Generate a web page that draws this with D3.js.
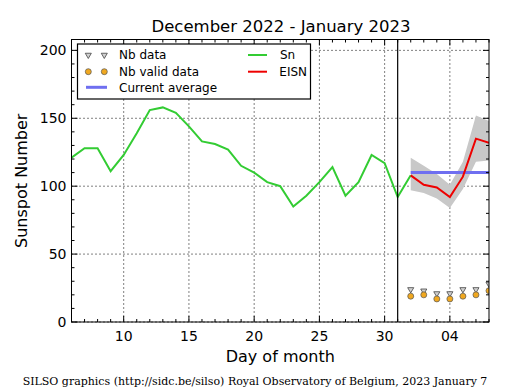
<!DOCTYPE html>
<html><head><meta charset="utf-8">
<script src="https://cdn.jsdelivr.net/npm/d3@7"></script>
<style>body{margin:0;background:#fff}svg{display:block}</style>
</head><body>
<svg id="c" width="515" height="390"></svg>
<script>
// ---- data ----
const snDays = [6,7,8,9,10,11,12,13,14,15,16,17,18,19,20,21,22,23,24,25,26,27,28,29,30,31,32];
const snValues = [121,128,128,111,123,139,156,158,154,144,133,131,127,115,110,103,100,85,93,103,114,93,103,123,117,92,108];
const eisnDays = [32,33,34,35,36,37,38];
const eisnValues = [108,101,99,92,107,135,132];
const eisnUpper = [121,115,109,101,118,152,148];
const eisnLower = [97,95,91,84,98,118,119];
const nbData = [24,23,21,21,24,24,28];
const nbValid = [19,20,17,17,19,20,23];
const currentAverage = 110;
const avgRange = [32,38];
const monthBoundary = 31;
const xTickValues = [10,15,20,25,30,35];
const xTickLabels = ["10","15","20","25","30","04"];
const yTickValues = [0,50,100,150,200];
const titleText = "December 2022 - January 2023";
const footerText = "SILSO graphics (http://sidc.be/silso) Royal Observatory of Belgium, 2023 January 7";

// ---- layout ----
const L = 71.5, R = 489, T = 39.5, B = 322;
const x = d3.scaleLinear().domain([6,38]).range([L,R]);
const y = d3.scaleLinear().domain([0,208]).range([B,T]);
const svg = d3.select("#c");
const font = "DejaVu Sans, sans-serif";

svg.append("defs").append("clipPath").attr("id","pc")
  .append("rect").attr("x",L).attr("y",T).attr("width",R-L).attr("height",B-T);

// grid
const g = svg.append("g");
g.selectAll(".gx").data(xTickValues).join("line")
  .attr("x1",d=>x(d)).attr("x2",d=>x(d)).attr("y1",T).attr("y2",B)
  .attr("stroke","#000").attr("stroke-width",1).attr("stroke-dasharray","1,3");
g.selectAll(".gy").data(yTickValues).join("line")
  .attr("x1",L).attr("x2",R).attr("y1",d=>y(d)).attr("y2",d=>y(d))
  .attr("stroke","#000").attr("stroke-width",1).attr("stroke-dasharray","1,3");

const plot = svg.append("g").attr("clip-path","url(#pc)");

// band
const bandData = eisnDays.map((d,i)=>({d, hi:eisnUpper[i], lo:eisnLower[i]}));
plot.append("path").datum(bandData)
  .attr("d", d3.area().x(p=>x(p.d)).y0(p=>y(p.lo)).y1(p=>y(p.hi)))
  .attr("fill","#c8c8c8").attr("stroke","none");

// Sn
plot.append("path").datum(snDays.map((d,i)=>[d,snValues[i]]))
  .attr("d", d3.line().x(p=>x(p[0])).y(p=>y(p[1])))
  .attr("fill","none").attr("stroke","#33cc33").attr("stroke-width",2);

// current average
plot.append("line").attr("x1",x(avgRange[0])).attr("x2",x(avgRange[1]))
  .attr("y1",y(currentAverage)).attr("y2",y(currentAverage))
  .attr("stroke","#6f6ff0").attr("stroke-width",3);

// EISN
plot.append("path").datum(eisnDays.map((d,i)=>[d,eisnValues[i]]))
  .attr("d", d3.line().x(p=>x(p[0])).y(p=>y(p[1])))
  .attr("fill","none").attr("stroke","#ee0000").attr("stroke-width",2);

// markers
const tri = d3.symbol().type(d3.symbolTriangle).size(16);
plot.selectAll(".tri").data(eisnDays).join("path")
  .attr("d",tri).attr("transform",(d,i)=>`translate(${x(d)},${y(nbData[i])}) rotate(180)`)
  .attr("fill","#d0d0d0").attr("stroke","#444").attr("stroke-width",0.8);
plot.selectAll(".dot").data(eisnDays).join("circle")
  .attr("cx",d=>x(d)).attr("cy",(d,i)=>y(nbValid[i])).attr("r",3)
  .attr("fill","#f0a820").attr("stroke","#555").attr("stroke-width",0.7);

// month boundary
svg.append("line").attr("x1",x(monthBoundary)).attr("x2",x(monthBoundary))
  .attr("y1",T).attr("y2",B).attr("stroke","#000").attr("stroke-width",1.2);

// ticks (inward, all four sides)
const ticks = svg.append("g").attr("stroke","#000").attr("stroke-width",1);
const xMinor = d3.range(6,39,1);
const yMinor = d3.range(0,209,10);
xMinor.forEach(d=>{
  const len = xTickValues.includes(d)?6:3;
  ticks.append("line").attr("x1",x(d)).attr("x2",x(d)).attr("y1",B).attr("y2",B-len);
  ticks.append("line").attr("x1",x(d)).attr("x2",x(d)).attr("y1",T).attr("y2",T+len);
});
yMinor.forEach(d=>{
  const len = yTickValues.includes(d)?6:3;
  ticks.append("line").attr("x1",L).attr("x2",L+len).attr("y1",y(d)).attr("y2",y(d));
  ticks.append("line").attr("x1",R).attr("x2",R-len).attr("y1",y(d)).attr("y2",y(d));
});

// frame
svg.append("rect").attr("x",L).attr("y",T).attr("width",R-L).attr("height",B-T)
  .attr("fill","none").attr("stroke","#000").attr("stroke-width",1);

// tick labels
svg.selectAll(".xl").data(xTickValues).join("text")
  .attr("x",d=>x(d)).attr("y",341).attr("text-anchor","middle")
  .attr("font-family",font).attr("font-size",14).text((d,i)=>xTickLabels[i]);
svg.selectAll(".yl").data(yTickValues).join("text")
  .attr("x",L-5).attr("y",d=>y(d)).attr("dy","0.36em").attr("text-anchor","end")
  .attr("font-family",font).attr("font-size",14).text(d=>d);

// titles
svg.append("text").attr("x",281).attr("y",32).attr("text-anchor","middle")
  .attr("font-family",font).attr("font-size",16.5).text(titleText);
svg.append("text").attr("x",(L+R)/2).attr("y",362).attr("text-anchor","middle")
  .attr("font-family",font).attr("font-size",16).text("Day of month");
svg.append("text").attr("transform",`translate(27,${(T+B)/2}) rotate(-90)`)
  .attr("text-anchor","middle").attr("font-family",font).attr("font-size",16).text("Sunspot Number");
svg.append("text").attr("x",255).attr("y",385).attr("text-anchor","middle")
  .attr("font-family","DejaVu Serif, serif").attr("font-size",11).text(footerText);

// legend
const lg = svg.append("g");
lg.append("rect").attr("x",77.5).attr("y",44).attr("width",233).attr("height",55)
  .attr("fill","#fff").attr("stroke","#000").attr("stroke-width",1.2);
const lf = 12;
[88.3,104.3].forEach(px=>{
  lg.append("path").attr("d",tri).attr("transform",`translate(${px},55) rotate(180)`)
    .attr("fill","#d0d0d0").attr("stroke","#444").attr("stroke-width",0.8);
  lg.append("circle").attr("cx",px).attr("cy",71.7).attr("r",3)
    .attr("fill","#f0a820").attr("stroke","#555").attr("stroke-width",0.7);
});
lg.append("line").attr("x1",86).attr("x2",107).attr("y1",87.3).attr("y2",87.3)
  .attr("stroke","#6f6ff0").attr("stroke-width",3);
lg.append("line").attr("x1",248).attr("x2",267).attr("y1",55).attr("y2",55)
  .attr("stroke","#33cc33").attr("stroke-width",2);
lg.append("line").attr("x1",248).attr("x2",267).attr("y1",71.7).attr("y2",71.7)
  .attr("stroke","#ee0000").attr("stroke-width",2);
const legendTexts = [["Nb data",119,55],["Nb valid data",119,71.7],["Current average",119,87.3],["Sn",280,55],["EISN",279.3,71.7]];
legendTexts.forEach(t=>{
  lg.append("text").attr("x",t[1]).attr("y",t[2]).attr("dy","0.36em")
    .attr("font-family",font).attr("font-size",lf).text(t[0]);
});
</script>
</body></html>
